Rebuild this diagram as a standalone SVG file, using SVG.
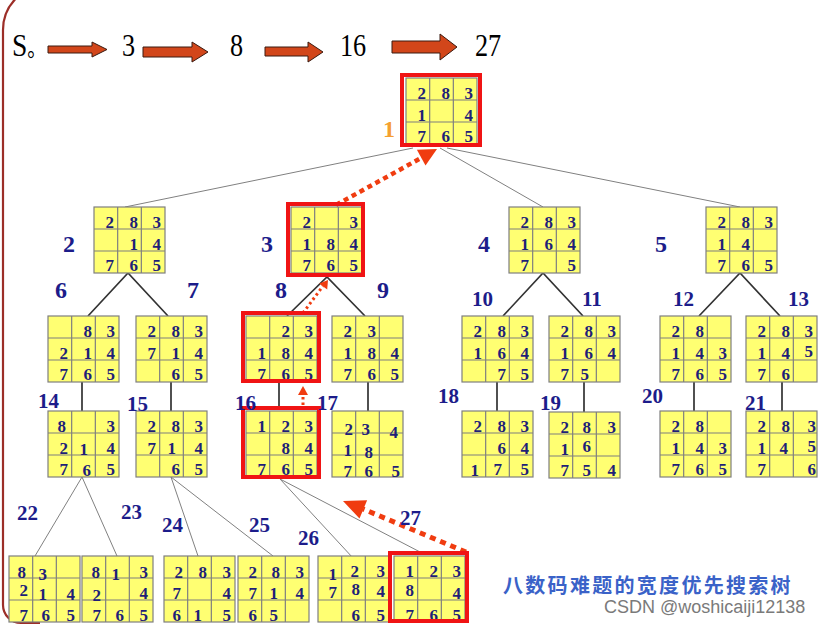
<svg xmlns="http://www.w3.org/2000/svg" xmlns:xlink="http://www.w3.org/1999/xlink" width="826" height="626" viewBox="0 0 826 626">
<style>
.d{font-family:"Liberation Serif",serif;font-weight:bold;font-size:17px;fill:#1f1f78;text-anchor:end}
.lb{font-family:"Liberation Serif",serif;font-weight:bold;font-size:24px;fill:#1c1c8a}
.ls{font-family:"Liberation Serif",serif;font-weight:bold;font-size:21px;fill:#1c1c8a}
.hd{font-family:"Liberation Serif",serif;font-size:32px;fill:#000}
.ha{fill:#d2461a;stroke:#3a1a10;stroke-width:1}
.gl{stroke:#808080;stroke-width:1;fill:none}
.dl{stroke:#333;stroke-width:1.7;fill:none}
.rb{fill:none;stroke:#f01414;stroke-width:4}
.ra{stroke:#f03c10;fill:none}
</style>
<defs>
<g id="grid">
<rect width="71" height="66" fill="#ffff72" stroke="#7f7f7f" stroke-width="1.2"/>
<path d="M23.67 0V66M47.33 0V66M0 22H71M0 44H71" stroke="#7f7f7f" stroke-width="1.2" fill="none"/>
</g>
</defs>
<rect width="826" height="626" fill="#fff"/>
<path d="M48,-15 A45 45 0 0 0 3,30 V605 A18 18 0 0 0 21,623 H40" fill="none" stroke="#9c2e28" stroke-width="2.2"/>

<g id="header">
<text class="hd" transform="translate(12 56) scale(0.86 1)">S<tspan font-family="Noto Sans CJK SC, sans-serif" font-size="22">。</tspan></text>
<polygon class="ha" points="48,46 92,46 92,42 107,49.5 92,57 92,53 48,53"/>
<text class="hd" transform="translate(122 56) scale(0.82 1)">3</text>
<polygon class="ha" points="143,47 192,47 192,42 208,52 192,62 192,57 143,57"/>
<text class="hd" transform="translate(230 56) scale(0.82 1)">8</text>
<polygon class="ha" points="265,47 308,47 308,42 323,52 308,62 308,56 265,56"/>
<text class="hd" transform="translate(340 56) scale(0.82 1)">16</text>
<polygon class="ha" points="392,41 440,41 440,34 457,47 440,60 440,53 392,53"/>
<text class="hd" transform="translate(475 56) scale(0.82 1)">27</text>
</g>

<g id="connectors">
<path class="gl" d="M413,148L125,207M440,148L543,207M447,148L740,207"/>
<path class="dl" d="M88,316L128,273L168,316M287,316L327,277L365,316M503,316L543,273L583,316M699,316L740,273L780,316"/>
<path class="dl" d="M82,382V411M171,382V411M279,383V406M368,382V411M497,382V411M584,382V412M694,382V411M782,382V411"/>
<path class="gl" d="M82,477L35,556M82,477L117,556M171,477L198,556M171,477L273,556M280,479L353,558M280,479L422,553"/>
<line class="ra" x1="336" y1="205" x2="421" y2="158" stroke-width="4.5" stroke-dasharray="5 4"/>
<polygon points="437,149 425.5,165.5 416.9,149.7" fill="#f03c10"/>
<line class="ra" x1="303" y1="313" x2="323" y2="286" stroke-width="3" stroke-dasharray="2.5 3"/>
<polygon points="328,280 327.2,289.4 319.2,283.4" fill="#f03c10"/>
<line class="ra" x1="303" y1="405" x2="303" y2="394" stroke-width="3" stroke-dasharray="2.5 3"/>
<polygon points="303,386 308,395 298,395" fill="#f03c10"/>
<line class="ra" x1="466" y1="552" x2="363" y2="509" stroke-width="5" stroke-dasharray="6 5"/>
<polygon points="343,501 367.1,500.2 359.5,518.6" fill="#f03c10"/>
</g>

<g id="n1"><g transform="translate(406,78)"><use xlink:href="#grid"/>
<text class="d" x="20" y="21">2</text><text class="d" x="44" y="21">8</text><text class="d" x="67" y="21">3</text>
<text class="d" x="20" y="43">1</text><text class="d" x="67" y="43">4</text>
<text class="d" x="20" y="64">7</text><text class="d" x="44" y="64">6</text><text class="d" x="67" y="64">5</text></g>
<rect class="rb" x="402" y="75" width="78" height="70"/>
<text class="lb" x="383" y="137" style="fill:#f5a030">1</text></g>

<g id="n2"><g transform="translate(94,207)"><use xlink:href="#grid"/>
<text class="d" x="20" y="21">2</text><text class="d" x="44" y="21">8</text><text class="d" x="67" y="21">3</text>
<text class="d" x="44" y="43">1</text><text class="d" x="67" y="43">4</text>
<text class="d" x="20" y="64">7</text><text class="d" x="44" y="64">6</text><text class="d" x="67" y="64">5</text></g>
<text class="lb" x="63" y="252">2</text></g>

<g id="n3"><g transform="translate(291,207)"><use xlink:href="#grid"/>
<text class="d" x="20" y="21">2</text><text class="d" x="67" y="21">3</text>
<text class="d" x="20" y="43">1</text><text class="d" x="44" y="43">8</text><text class="d" x="67" y="43">4</text>
<text class="d" x="20" y="64">7</text><text class="d" x="44" y="64">6</text><text class="d" x="67" y="64">5</text></g>
<rect class="rb" x="288" y="204" width="75" height="71"/>
<text class="lb" x="261" y="252">3</text></g>

<g id="n4"><g transform="translate(509,207)"><use xlink:href="#grid"/>
<text class="d" x="20" y="21">2</text><text class="d" x="44" y="21">8</text><text class="d" x="67" y="21">3</text>
<text class="d" x="20" y="43">1</text><text class="d" x="44" y="43">6</text><text class="d" x="67" y="43">4</text>
<text class="d" x="20" y="64">7</text><text class="d" x="67" y="64">5</text></g>
<text class="lb" x="478" y="252">4</text></g>

<g id="n5"><g transform="translate(706,207)"><use xlink:href="#grid"/>
<text class="d" x="20" y="21">2</text><text class="d" x="44" y="21">8</text><text class="d" x="67" y="21">3</text>
<text class="d" x="20" y="43">1</text><text class="d" x="44" y="43">4</text>
<text class="d" x="20" y="64">7</text><text class="d" x="44" y="64">6</text><text class="d" x="67" y="64">5</text></g>
<text class="lb" x="655" y="252">5</text></g>

<g id="n6"><g transform="translate(48,316)"><use xlink:href="#grid"/>
<text class="d" x="44" y="21">8</text><text class="d" x="67" y="21">3</text>
<text class="d" x="20" y="43">2</text><text class="d" x="44" y="43">1</text><text class="d" x="67" y="43">4</text>
<text class="d" x="20" y="64">7</text><text class="d" x="44" y="64">6</text><text class="d" x="67" y="64">5</text></g>
<text class="lb" x="55" y="298">6</text></g>

<g id="n7"><g transform="translate(136,316)"><use xlink:href="#grid"/>
<text class="d" x="20" y="21">2</text><text class="d" x="44" y="21">8</text><text class="d" x="67" y="21">3</text>
<text class="d" x="20" y="43">7</text><text class="d" x="44" y="43">1</text><text class="d" x="67" y="43">4</text>
<text class="d" x="44" y="64">6</text><text class="d" x="67" y="64">5</text></g>
<text class="lb" x="187" y="298">7</text></g>

<g id="n8"><g transform="translate(246,316)"><use xlink:href="#grid"/>
<text class="d" x="44" y="21">2</text><text class="d" x="67" y="21">3</text>
<text class="d" x="20" y="43">1</text><text class="d" x="44" y="43">8</text><text class="d" x="67" y="43">4</text>
<text class="d" x="20" y="64">7</text><text class="d" x="44" y="64">6</text><text class="d" x="67" y="64">5</text></g>
<rect class="rb" x="243" y="313" width="76" height="68"/>
<text class="lb" x="275" y="298">8</text></g>

<g id="n9"><g transform="translate(332,316)"><use xlink:href="#grid"/>
<text class="d" x="20" y="21">2</text><text class="d" x="44" y="21">3</text>
<text class="d" x="20" y="43">1</text><text class="d" x="44" y="43">8</text><text class="d" x="67" y="43">4</text>
<text class="d" x="20" y="64">7</text><text class="d" x="44" y="64">6</text><text class="d" x="67" y="64">5</text></g>
<text class="lb" x="377" y="298">9</text></g>

<g id="n10"><g transform="translate(462,316)"><use xlink:href="#grid"/>
<text class="d" x="20" y="21">2</text><text class="d" x="44" y="21">8</text><text class="d" x="67" y="21">3</text>
<text class="d" x="20" y="43">1</text><text class="d" x="44" y="43">6</text><text class="d" x="67" y="43">4</text>
<text class="d" x="44" y="64">7</text><text class="d" x="67" y="64">5</text></g>
<text class="ls" x="472" y="306">10</text></g>

<g id="n11"><g transform="translate(549,316)"><use xlink:href="#grid"/>
<text class="d" x="20" y="21">2</text><text class="d" x="44" y="21">8</text><text class="d" x="67" y="21">3</text>
<text class="d" x="20" y="43">1</text><text class="d" x="44" y="43">6</text><text class="d" x="67" y="43">4</text>
<text class="d" x="20" y="64">7</text><text class="d" x="40" y="64">5</text></g>
<text class="ls" x="582" y="306">11</text></g>

<g id="n12"><g transform="translate(660,316)"><use xlink:href="#grid"/>
<text class="d" x="20" y="21">2</text><text class="d" x="44" y="21">8</text>
<text class="d" x="20" y="43">1</text><text class="d" x="44" y="43">4</text><text class="d" x="67" y="43">3</text>
<text class="d" x="20" y="64">7</text><text class="d" x="44" y="64">6</text><text class="d" x="67" y="64">5</text></g>
<text class="ls" x="673" y="306">12</text></g>

<g id="n13"><g transform="translate(746,316)"><use xlink:href="#grid"/>
<text class="d" x="20" y="21">2</text><text class="d" x="44" y="21">8</text><text class="d" x="67" y="21">3</text>
<text class="d" x="20" y="43">1</text><text class="d" x="44" y="43">4</text><text class="d" x="67" y="41">5</text>
<text class="d" x="20" y="64">7</text><text class="d" x="44" y="64">6</text></g>
<text class="ls" x="788" y="306">13</text></g>

<g id="n14"><g transform="translate(48,411)"><use xlink:href="#grid"/>
<text class="d" x="18" y="21">8</text><text class="d" x="67" y="21">3</text>
<text class="d" x="20" y="43">2</text><text class="d" x="40" y="44">1</text><text class="d" x="67" y="43">4</text>
<text class="d" x="20" y="64">7</text><text class="d" x="43" y="65">6</text><text class="d" x="67" y="64">5</text></g>
<text class="ls" x="38" y="408">14</text></g>

<g id="n15"><g transform="translate(136,411)"><use xlink:href="#grid"/>
<text class="d" x="20" y="21">2</text><text class="d" x="44" y="21">8</text><text class="d" x="67" y="21">3</text>
<text class="d" x="20" y="43">7</text><text class="d" x="40" y="43">1</text><text class="d" x="67" y="43">4</text>
<text class="d" x="44" y="64">6</text><text class="d" x="67" y="64">5</text></g>
<text class="ls" x="127" y="411">15</text></g>

<g id="n16"><g transform="translate(246,411)"><use xlink:href="#grid"/>
<text class="d" x="20" y="21">1</text><text class="d" x="44" y="21">2</text><text class="d" x="67" y="21">3</text>
<text class="d" x="44" y="43">8</text><text class="d" x="67" y="43">4</text>
<text class="d" x="20" y="64">7</text><text class="d" x="44" y="64">6</text><text class="d" x="67" y="64">5</text></g>
<rect class="rb" x="243" y="408" width="76" height="69"/>
<text class="ls" x="235" y="410">16</text></g>

<g id="n17"><g transform="translate(332,411)"><use xlink:href="#grid"/>
<text class="d" x="21" y="24">2</text><text class="d" x="38" y="24">3</text><text class="d" x="66" y="27">4</text>
<text class="d" x="20" y="45">1</text><text class="d" x="41" y="47">8</text>
<text class="d" x="20" y="66">7</text><text class="d" x="41" y="66">6</text><text class="d" x="68" y="66">5</text></g>
<text class="ls" x="317" y="410">17</text></g>

<g id="n18"><g transform="translate(462,411)"><use xlink:href="#grid"/>
<text class="d" x="20" y="21">2</text><text class="d" x="44" y="21">8</text><text class="d" x="67" y="21">3</text>
<text class="d" x="44" y="43">6</text><text class="d" x="67" y="43">4</text>
<text class="d" x="17" y="65">1</text><text class="d" x="40" y="64">7</text><text class="d" x="67" y="64">5</text></g>
<text class="ls" x="438" y="403">18</text></g>

<g id="n19"><g transform="translate(549,412)"><use xlink:href="#grid"/>
<text class="d" x="20" y="21">2</text><text class="d" x="42" y="21">8</text><text class="d" x="67" y="21">3</text>
<text class="d" x="20" y="43">1</text><text class="d" x="42" y="40">6</text>
<text class="d" x="20" y="64">7</text><text class="d" x="42" y="64">5</text><text class="d" x="67" y="64">4</text></g>
<text class="ls" x="540" y="410">19</text></g>

<g id="n20"><g transform="translate(660,411)"><use xlink:href="#grid"/>
<text class="d" x="20" y="21">2</text><text class="d" x="44" y="21">8</text>
<text class="d" x="20" y="43">1</text><text class="d" x="44" y="43">4</text><text class="d" x="67" y="43">3</text>
<text class="d" x="20" y="64">7</text><text class="d" x="44" y="64">6</text><text class="d" x="67" y="64">5</text></g>
<text class="ls" x="642" y="403">20</text></g>

<g id="n21"><g transform="translate(746,411)"><use xlink:href="#grid"/>
<text class="d" x="20" y="21">2</text><text class="d" x="44" y="21">8</text><text class="d" x="70" y="21">3</text>
<text class="d" x="20" y="43">1</text><text class="d" x="42" y="43">4</text><text class="d" x="70" y="41">5</text>
<text class="d" x="20" y="64">7</text><text class="d" x="70" y="64">6</text></g>
<text class="ls" x="745" y="410">21</text></g>

<g id="n22"><g transform="translate(9,556)"><use xlink:href="#grid"/>
<text class="d" x="17" y="22">8</text><text class="d" x="38" y="24">3</text>
<text class="d" x="19" y="40">2</text><text class="d" x="38" y="44">1</text><text class="d" x="66" y="44">4</text>
<text class="d" x="19" y="65">7</text><text class="d" x="41" y="65">6</text><text class="d" x="66" y="65">5</text></g>
<text class="ls" x="17" y="520">22</text></g>

<g id="n23"><g transform="translate(82,556)"><use xlink:href="#grid"/>
<text class="d" x="18" y="22">8</text><text class="d" x="38" y="24">1</text><text class="d" x="66" y="22">3</text>
<text class="d" x="19" y="45">2</text><text class="d" x="66" y="43">4</text>
<text class="d" x="19" y="65">7</text><text class="d" x="42" y="65">6</text><text class="d" x="66" y="65">5</text></g>
<text class="ls" x="121" y="519">23</text></g>

<g id="n24"><g transform="translate(164,556)"><use xlink:href="#grid"/>
<text class="d" x="19" y="22">2</text><text class="d" x="43" y="22">8</text><text class="d" x="67" y="22">3</text>
<text class="d" x="17" y="43">7</text><text class="d" x="67" y="43">4</text>
<text class="d" x="17" y="65">6</text><text class="d" x="38" y="65">1</text><text class="d" x="67" y="65">5</text></g>
<text class="ls" x="162" y="532">24</text></g>

<g id="n25"><g transform="translate(238,556)"><use xlink:href="#grid"/>
<text class="d" x="19" y="22">2</text><text class="d" x="42" y="22">8</text><text class="d" x="66" y="22">3</text>
<text class="d" x="19" y="43">7</text><text class="d" x="40" y="43">1</text><text class="d" x="66" y="43">4</text>
<text class="d" x="19" y="65">6</text><text class="d" x="40" y="65">5</text></g>
<text class="ls" x="249" y="532">25</text></g>

<g id="n26"><g transform="translate(318,556)"><use xlink:href="#grid"/>
<text class="d" x="19" y="24">1</text><text class="d" x="41" y="21">2</text><text class="d" x="67" y="21">3</text>
<text class="d" x="19" y="42">7</text><text class="d" x="42" y="39">8</text><text class="d" x="67" y="41">4</text>
<text class="d" x="42" y="65">6</text><text class="d" x="67" y="65">5</text></g>
<text class="ls" x="298" y="545">26</text></g>

<g id="n27"><g transform="translate(394,556)"><use xlink:href="#grid"/>
<text class="d" x="20" y="21">1</text><text class="d" x="44" y="21">2</text><text class="d" x="67" y="21">3</text>
<text class="d" x="20" y="40">8</text><text class="d" x="67" y="43">4</text>
<text class="d" x="20" y="65">7</text><text class="d" x="44" y="65">6</text><text class="d" x="67" y="65">5</text></g>
<rect class="rb" x="390" y="553" width="77" height="68"/>
<text class="ls" x="400" y="525">27</text></g>

<text x="503" y="593" font-family="Noto Sans CJK SC, sans-serif" font-weight="bold" font-size="20" letter-spacing="2.3" fill="#3a62c8">八数码难题的宽度优先搜索树</text>
<text x="604" y="613" font-family="Liberation Sans, sans-serif" font-size="18" fill="#7a7a7a">CSDN @woshicaiji12138</text>
</svg>
